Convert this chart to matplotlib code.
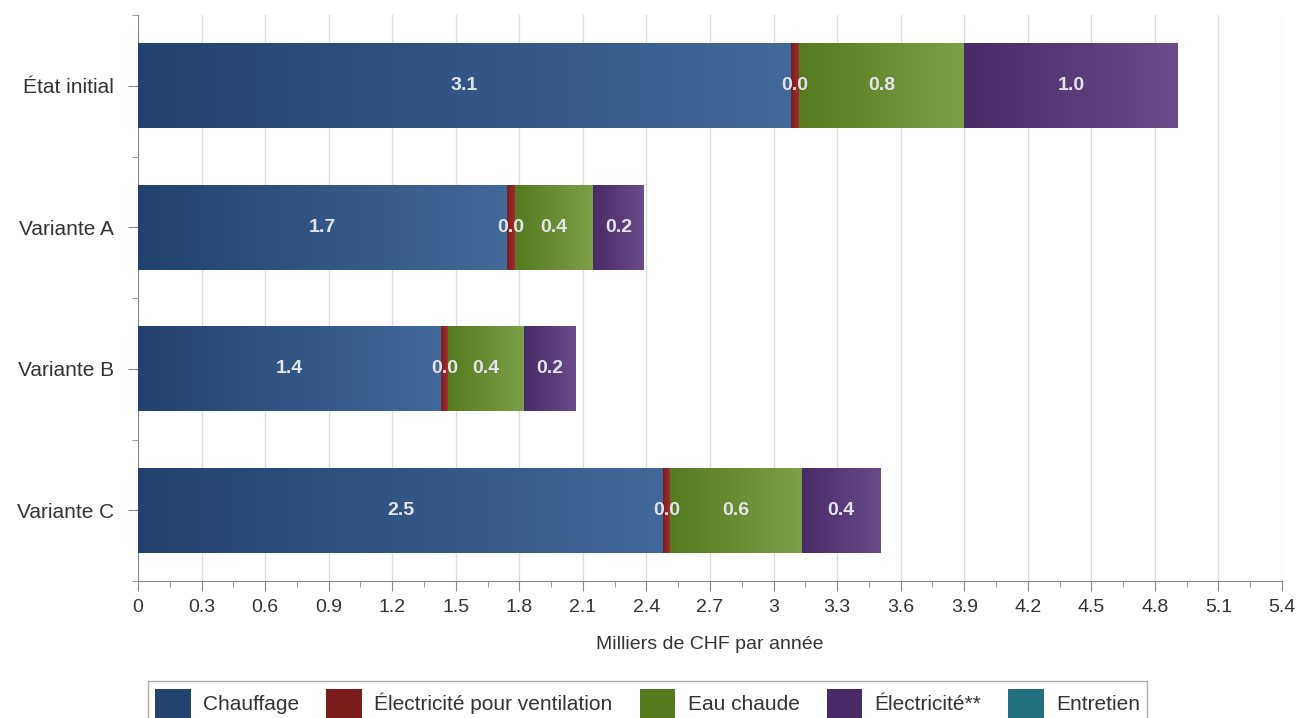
import numpy as np
import matplotlib.pyplot as plt
from matplotlib.colors import LinearSegmentedColormap
from matplotlib.ticker import MultipleLocator

categories = ["État initial", "Variante A", "Variante B", "Variante C"]
series = ["Chauffage", "Électricité pour ventilation", "Eau chaude", "Électricité**", "Entretien"]
chauffage = [3.08, 1.74, 1.43, 2.48]
ventilation = [0.04, 0.038, 0.033, 0.033]
eau_chaude = [0.78, 0.37, 0.36, 0.62]
electricite = [1.01, 0.24, 0.245, 0.37]
entretien = [0.0, 0.0, 0.0, 0.0]
x_ticks = np.round(np.arange(0, 5.41, 0.3), 1)

# dark -> light pairs for the horizontal gradient of each series
shades = [("#22426f", "#41699a"),
          ("#7a1c1c", "#a33030"),
          ("#567a1f", "#7d9f48"),
          ("#472a66", "#6b4c8c"),
          ("#22707f", "#3a93a6")]

plt.rcParams['font.family'] = ["Liberation Sans", "DejaVu Sans"]

fig = plt.figure(figsize=(12.98, 7.18), dpi=100)
ax = fig.add_axes([0.1063, 0.1908, 0.8814, 0.7882])

y = np.arange(len(categories))
values = [chauffage, ventilation, eau_chaude, electricite, entretien]
left = np.zeros(len(categories))
grad = np.linspace(0, 1, 256).reshape(1, -1)
handles = []
for name, vals, (c0, c1) in zip(series, values, shades):
    bars = ax.barh(y, vals, left=left, height=0.6, color=c0, edgecolor="none",
                   label=name, zorder=2)
    handles.append(bars)
    cmap = LinearSegmentedColormap.from_list(name, [c0, c1])
    for bar, v in zip(bars, vals):
        if v <= 0:
            continue
        x0, y0 = bar.get_x(), bar.get_y()
        im = ax.imshow(grad, cmap=cmap, aspect="auto", zorder=3,
                       extent=(x0, x0 + bar.get_width(), y0, y0 + bar.get_height()))
        im.set_clip_path(bar)
        ax.text(x0 + bar.get_width() / 2, bar.get_y() + bar.get_height() / 2,
                f"{v:.1f}", ha="center", va="center", color="#e4e4ec",
                fontsize=14, fontweight="bold", zorder=4)
    left = left + np.array(vals)

ax.set_xlim(0, 5.4)
ax.set_ylim(3.5, -0.5)
ax.set_xticks(x_ticks)
ax.set_xticklabels([f"{t:g}" for t in x_ticks], fontsize=14, color="#333333")
ax.xaxis.set_minor_locator(MultipleLocator(0.15))
ax.set_yticks(y)
ax.set_yticklabels(categories, fontsize=15, color="#333333")
ax.set_yticks(np.arange(-0.5, 3.6, 1), minor=True)
ax.tick_params(axis="both", which="major", length=7, color="#888888", pad=6)
ax.tick_params(axis="both", which="minor", length=4, color="#888888")
ax.tick_params(axis="y", pad=10)
ax.grid(axis="x", color="#dcdcdc", linewidth=1, zorder=0)
ax.set_axisbelow(True)
for side in ("top", "right"):
    ax.spines[side].set_visible(False)
for side in ("left", "bottom"):
    ax.spines[side].set_color("#888888")
ax.set_xlabel("Milliers de CHF par année", fontsize=14, color="#333333", labelpad=14)

leg = fig.legend(handles=handles, loc="upper left", bbox_to_anchor=(0.114, 0.051),
                 borderaxespad=0, ncol=5, frameon=True, fancybox=False,
                 edgecolor="#999999", prop={"size": 15}, handlelength=1.7,
                 handleheight=1.8, columnspacing=1.3, handletextpad=0.6, borderpad=0.35)
leg.get_frame().set_linewidth(1)
for txt in leg.get_texts():
    txt.set_color("#333333")

fig.savefig("out.png", dpi=100)
